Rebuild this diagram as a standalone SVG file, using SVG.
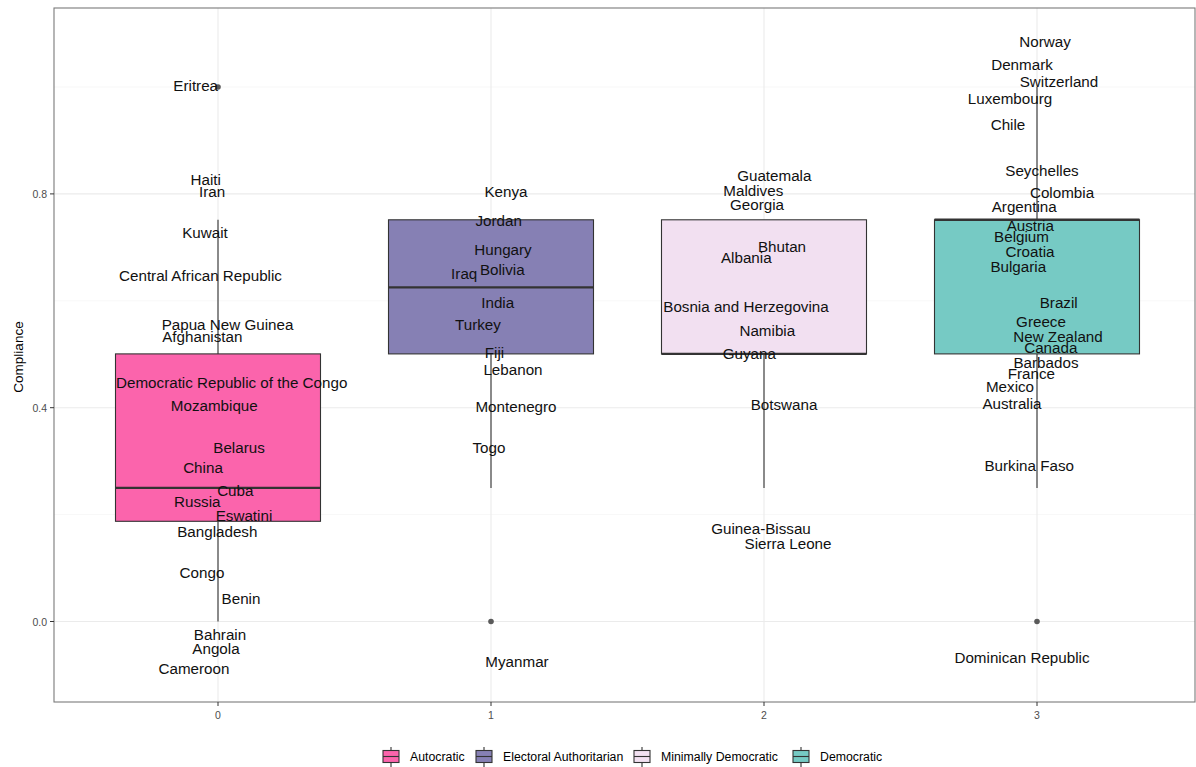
<svg xmlns="http://www.w3.org/2000/svg" width="1196" height="767" viewBox="0 0 1196 767">
<style>
.grid-major{stroke:#EBEBEB;stroke-width:1.1;fill:none}
.grid-minor{stroke:#F2F2F2;stroke-width:0.6;fill:none}
.box{stroke:#333333;stroke-width:1.1}
.med{stroke:#333333;stroke-width:2.4}
.whisk{stroke:#333333;stroke-width:1.1}
.out{fill:#5A5A5A}
.lbl{font-family:"Liberation Sans",Arial,sans-serif;font-size:15.2px;fill:#111111;text-anchor:middle;dominant-baseline:central}
.tick{font-family:"Liberation Sans",Arial,sans-serif;font-size:10.5px;fill:#4D4D4D;dominant-baseline:central}
.axt{font-family:"Liberation Sans",Arial,sans-serif;font-size:13.5px;fill:#000000;text-anchor:middle;dominant-baseline:central}
.leg{font-family:"Liberation Sans",Arial,sans-serif;font-size:12.3px;fill:#000000;dominant-baseline:central}
.ticks{stroke:#333333;stroke-width:1}
.c0{fill:#FB64AC}
.c1{fill:#8680B4}
.c2{fill:#F2E0F1}
.c3{fill:#76CAC4}
</style>
<rect x="0" y="0" width="1196" height="767" fill="#FFFFFF"/>
<g id="grid">
<line class="grid-minor" x1="54" y1="514.6" x2="1195" y2="514.6"/>
<line class="grid-minor" x1="54" y1="300.8" x2="1195" y2="300.8"/>
<line class="grid-minor" x1="54" y1="87" x2="1195" y2="87"/>
<line class="grid-major" x1="54" y1="621.5" x2="1195" y2="621.5"/>
<line class="grid-major" x1="54" y1="407.7" x2="1195" y2="407.7"/>
<line class="grid-major" x1="54" y1="193.9" x2="1195" y2="193.9"/>
<line class="grid-major" x1="218" y1="8" x2="218" y2="702"/>
<line class="grid-major" x1="491" y1="8" x2="491" y2="702"/>
<line class="grid-major" x1="764" y1="8" x2="764" y2="702"/>
<line class="grid-major" x1="1037" y1="8" x2="1037" y2="702"/>
</g>
<g id="connectors">
<line class="whisk" x1="218" y1="219.8" x2="218" y2="353.9"/>
<line class="whisk" x1="218" y1="521.3" x2="218" y2="621.5"/>
<line class="whisk" x1="491" y1="353.9" x2="491" y2="487.9"/>
<line class="whisk" x1="764" y1="353.9" x2="764" y2="487.9"/>
<line class="whisk" x1="1037" y1="87" x2="1037" y2="219.8"/>
<line class="whisk" x1="1037" y1="353.9" x2="1037" y2="487.9"/>
</g>
<g id="box-autocratic">
<rect class="box c0" x="115.5" y="353.9" width="205" height="167.4"/>
<line class="med" x1="115.5" y1="487.9" x2="320.5" y2="487.9"/>
<circle class="out" cx="218" cy="87" r="2.8"/>
</g>
<g id="box-electoral">
<rect class="box c1" x="388.5" y="219.8" width="205" height="134.1"/>
<line class="med" x1="388.5" y1="287.4" x2="593.5" y2="287.4"/>
<circle class="out" cx="491" cy="621.5" r="2.8"/>
</g>
<g id="box-minimal">
<rect class="box c2" x="661.5" y="219.8" width="205" height="134.1"/>
<line class="med" x1="661.5" y1="353.9" x2="866.5" y2="353.9"/>
</g>
<g id="box-democratic">
<rect class="box c3" x="934.5" y="219.8" width="205" height="134.1"/>
<line class="med" x1="934.5" y1="219.8" x2="1139.5" y2="219.8"/>
<circle class="out" cx="1037" cy="621.5" r="2.8"/>
</g>
<g id="labels-0">
<text class="lbl" x="195.7" y="85">Eritrea</text>
<text class="lbl" x="205.7" y="179">Haiti</text>
<text class="lbl" x="212" y="191.7">Iran</text>
<text class="lbl" x="205" y="232.7">Kuwait</text>
<text class="lbl" x="200.5" y="275">Central African Republic</text>
<text class="lbl" x="227.5" y="324.3">Papua New Guinea</text>
<text class="lbl" x="202.3" y="336">Afghanistan</text>
<text class="lbl" x="231.7" y="382.3">Democratic Republic of the Congo</text>
<text class="lbl" x="214.3" y="405">Mozambique</text>
<text class="lbl" x="239" y="447.3">Belarus</text>
<text class="lbl" x="203" y="467.7">China</text>
<text class="lbl" x="235.3" y="490">Cuba</text>
<text class="lbl" x="197.3" y="501.7">Russia</text>
<text class="lbl" x="244" y="515.7">Eswatini</text>
<text class="lbl" x="217.3" y="531.7">Bangladesh</text>
<text class="lbl" x="202" y="572">Congo</text>
<text class="lbl" x="241" y="598">Benin</text>
<text class="lbl" x="220" y="634">Bahrain</text>
<text class="lbl" x="216" y="648">Angola</text>
<text class="lbl" x="194" y="668">Cameroon</text>
</g>
<g id="labels-1">
<text class="lbl" x="506" y="191">Kenya</text>
<text class="lbl" x="498.7" y="220">Jordan</text>
<text class="lbl" x="503" y="249.3">Hungary</text>
<text class="lbl" x="502.3" y="269">Bolivia</text>
<text class="lbl" x="464.2" y="273.3">Iraq</text>
<text class="lbl" x="497.7" y="302.3">India</text>
<text class="lbl" x="478" y="324">Turkey</text>
<text class="lbl" x="494.5" y="352.7">Fiji</text>
<text class="lbl" x="513" y="369">Lebanon</text>
<text class="lbl" x="516" y="406">Montenegro</text>
<text class="lbl" x="489" y="447">Togo</text>
<text class="lbl" x="517" y="661">Myanmar</text>
</g>
<g id="labels-2">
<text class="lbl" x="774.3" y="175.7">Guatemala</text>
<text class="lbl" x="753.3" y="190.7">Maldives</text>
<text class="lbl" x="757" y="204.3">Georgia</text>
<text class="lbl" x="782" y="246">Bhutan</text>
<text class="lbl" x="746.3" y="257.7">Albania</text>
<text class="lbl" x="746" y="306.7">Bosnia and Herzegovina</text>
<text class="lbl" x="767.3" y="330">Namibia</text>
<text class="lbl" x="749.3" y="353.3">Guyana</text>
<text class="lbl" x="784" y="404">Botswana</text>
<text class="lbl" x="761" y="528">Guinea-Bissau</text>
<text class="lbl" x="788" y="543">Sierra Leone</text>
</g>
<g id="labels-3">
<text class="lbl" x="1045" y="41">Norway</text>
<text class="lbl" x="1022" y="64">Denmark</text>
<text class="lbl" x="1059" y="81">Switzerland</text>
<text class="lbl" x="1010" y="98">Luxembourg</text>
<text class="lbl" x="1008" y="124">Chile</text>
<text class="lbl" x="1042" y="170">Seychelles</text>
<text class="lbl" x="1062" y="192">Colombia</text>
<text class="lbl" x="1024.2" y="206">Argentina</text>
<text class="lbl" x="1030.3" y="225">Austria</text>
<text class="lbl" x="1021.5" y="236">Belgium</text>
<text class="lbl" x="1030" y="251">Croatia</text>
<text class="lbl" x="1018.3" y="266.7">Bulgaria</text>
<text class="lbl" x="1058.7" y="302.3">Brazil</text>
<text class="lbl" x="1041" y="321">Greece</text>
<text class="lbl" x="1058" y="336">New Zealand</text>
<text class="lbl" x="1050.8" y="347.3">Canada</text>
<text class="lbl" x="1046" y="362.3">Barbados</text>
<text class="lbl" x="1031.3" y="373.3">France</text>
<text class="lbl" x="1010" y="386">Mexico</text>
<text class="lbl" x="1012" y="403.3">Australia</text>
<text class="lbl" x="1029.2" y="465">Burkina Faso</text>
<text class="lbl" x="1022" y="657">Dominican Republic</text>
</g>
<g id="panel-border">
<rect x="54" y="8" width="1141" height="694" fill="none" stroke="#7A7A7A" stroke-width="1.1"/>
</g>
<g id="axes">
<line class="ticks" x1="50" y1="621.5" x2="54" y2="621.5"/>
<line class="ticks" x1="50" y1="407.7" x2="54" y2="407.7"/>
<line class="ticks" x1="50" y1="193.9" x2="54" y2="193.9"/>
<text class="tick" x="47" y="621.5" text-anchor="end">0.0</text>
<text class="tick" x="47" y="407.7" text-anchor="end">0.4</text>
<text class="tick" x="47" y="193.9" text-anchor="end">0.8</text>
<line class="ticks" x1="218" y1="702" x2="218" y2="706"/>
<line class="ticks" x1="491" y1="702" x2="491" y2="706"/>
<line class="ticks" x1="764" y1="702" x2="764" y2="706"/>
<line class="ticks" x1="1037" y1="702" x2="1037" y2="706"/>
<text class="tick" x="218" y="715" text-anchor="middle">0</text>
<text class="tick" x="491" y="715" text-anchor="middle">1</text>
<text class="tick" x="764" y="715" text-anchor="middle">2</text>
<text class="tick" x="1037" y="715" text-anchor="middle">3</text>
<text class="axt" transform="translate(18,357) rotate(-90)" x="0" y="0">Compliance</text>
</g>
<g id="legend">
<g id="legend-autocratic">
<line class="whisk" x1="391" y1="747" x2="391" y2="767"/>
<rect class="box c0" x="383" y="750.5" width="16" height="12"/>
<line class="whisk" x1="383" y1="756.5" x2="399" y2="756.5"/>
<text class="leg" x="410" y="757">Autocratic</text>
</g>
<g id="legend-electoral">
<line class="whisk" x1="484" y1="747" x2="484" y2="767"/>
<rect class="box c1" x="476" y="750.5" width="16" height="12"/>
<line class="whisk" x1="476" y1="756.5" x2="492" y2="756.5"/>
<text class="leg" x="503" y="757">Electoral Authoritarian</text>
</g>
<g id="legend-minimal">
<line class="whisk" x1="642" y1="747" x2="642" y2="767"/>
<rect class="box c2" x="634" y="750.5" width="16" height="12"/>
<line class="whisk" x1="634" y1="756.5" x2="650" y2="756.5"/>
<text class="leg" x="661" y="757">Minimally Democratic</text>
</g>
<g id="legend-democratic">
<line class="whisk" x1="801" y1="747" x2="801" y2="767"/>
<rect class="box c3" x="793" y="750.5" width="16" height="12"/>
<line class="whisk" x1="793" y1="756.5" x2="809" y2="756.5"/>
<text class="leg" x="820" y="757">Democratic</text>
</g>
</g>
</svg>
